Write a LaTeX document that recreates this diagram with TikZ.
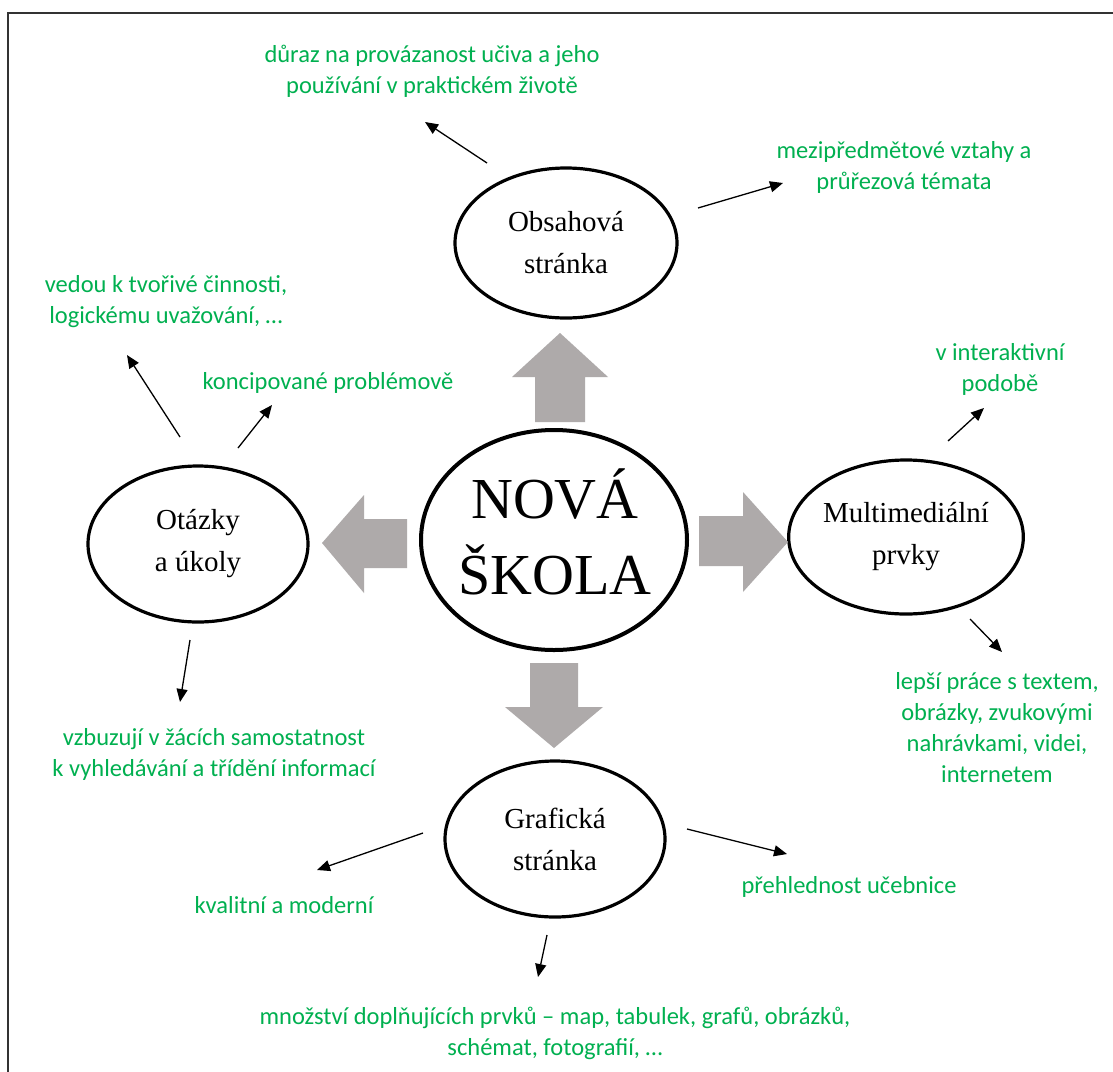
\documentclass[tikz,border=0pt]{standalone}
\usepackage{fontspec}
\setmainfont{Liberation Serif}
\newfontfamily\greenfont{Carlito}
\usetikzlibrary{arrows.meta,shapes.geometric,calc}
\definecolor{txtgreen}{HTML}{00B050}
\definecolor{blockgray}{HTML}{AEAAAA}
\tikzset{
  ell/.style={ellipse,draw=black,line width=3.2pt,inner sep=0pt,align=center,font=\fontsize{29}{42}\selectfont},
  bigell/.style={ellipse,draw=black,line width=4pt,inner sep=0pt,align=center},
  gtext/.style={text=txtgreen,align=center,inner sep=0pt,font=\greenfont\fontsize{24.5}{31}\selectfont},
  thinarrow/.style={line width=1.3pt,-{Triangle[length=13pt,width=11pt]}},
  blockarrow/.style={fill=blockgray,draw=none}
}
\begin{document}
\begin{tikzpicture}[x=1pt,y=-1pt]
\useasboundingbox (0,0) rectangle (1113,1071);
\fill[white] (0,0) rectangle (1113,1071);
% frame
\draw[line width=2pt,black!80] (8,1075) -- (8,13) -- (1120,13);

% ellipses
\node[bigell,minimum width=266pt,minimum height=220pt] (nova) at (554,540) {};
\node[font=\fontsize{58}{76}\selectfont,align=center,inner sep=0pt] (novatxt) at (555,532) {NOVÁ\\ŠKOLA};
\node[ell,minimum width=222pt,minimum height=150pt] (obsah) at (566,243) {Obsahová\\stránka};
\node[ell,minimum width=222pt,minimum height=154pt] (multi) at (906,537) {Multimediální\\prvky};
\node[ell,minimum width=220pt,minimum height=156pt] (otazky) at (198,544) {Otázky\\a úkoly};
\node[ell,minimum width=220pt,minimum height=156pt] (graf) at (555,839) {Grafická\\stránka};

% block arrows
\fill[blockarrow] (535,422) -- (535,377) -- (512,377) -- (560,333) -- (608,377) -- (585,377) -- (585,422) -- cycle;
\fill[blockarrow] (530,663) -- (530,707) -- (505,707) -- (554,748) -- (603,707) -- (578,707) -- (578,663) -- cycle;
\fill[blockarrow] (699,516) -- (743,516) -- (743,492) -- (788,542) -- (743,592) -- (743,566) -- (699,566) -- cycle;
\fill[blockarrow] (407,519) -- (364,519) -- (364,495) -- (322,543) -- (364,593) -- (364,568) -- (407,568) -- cycle;

% green texts
\node[gtext] (t1) at (432,71) {důraz na provázanost učiva a jeho\\používání v praktickém životě};
\node[gtext] (t2) at (904,167) {mezipředmětové vztahy a\\průřezová témata};
\node[gtext] (t3) at (166,302) {vedou k tvořivé činnosti,\\logickému uvažování, …};
\node[gtext] (t4) at (328,383) {koncipované problémově};
\node[gtext] (t5) at (1000,369) {v interaktivní\\podobě};
\node[gtext] (t6) at (997,728) {lepší práce s textem,\\obrázky, zvukovými\\nahrávkami, videi,\\internetem};
\node[gtext] (t7) at (214,754) {vzbuzují v žácích samostatnost\\k vyhledávání a třídění informací};
\node[gtext] (t8) at (284,905) {kvalitní a moderní};
\node[gtext] (t9) at (849,887) {přehlednost učebnice};
\node[gtext] (t10) at (555,1033) {množství doplňujících prvků – map, tabulek, grafů, obrázků,\\schémat, fotografií, …};

% arrow endpoints
\coordinate (a1s) at (487,163); \coordinate (a1e) at (425,122);
\coordinate (a2s) at (698,208); \coordinate (a2e) at (783,183);
\coordinate (a3s) at (180,437); \coordinate (a3e) at (127,355);
\coordinate (a4s) at (238,448); \coordinate (a4e) at (272,405);
\coordinate (a5s) at (948,441); \coordinate (a5e) at (984,408);
\coordinate (a6s) at (970,619); \coordinate (a6e) at (1002,652);
\coordinate (a7s) at (190,640); \coordinate (a7e) at (180,702);
\coordinate (a8s) at (423,833); \coordinate (a8e) at (317,870);
\coordinate (a9s) at (687,829); \coordinate (a9e) at (787,854);
\coordinate (a10s) at (547,935); \coordinate (a10e) at (538,977);
\foreach \i in {1,...,10} {\draw[thinarrow] (a\i s) -- (a\i e);}
\end{tikzpicture}
\end{document}
